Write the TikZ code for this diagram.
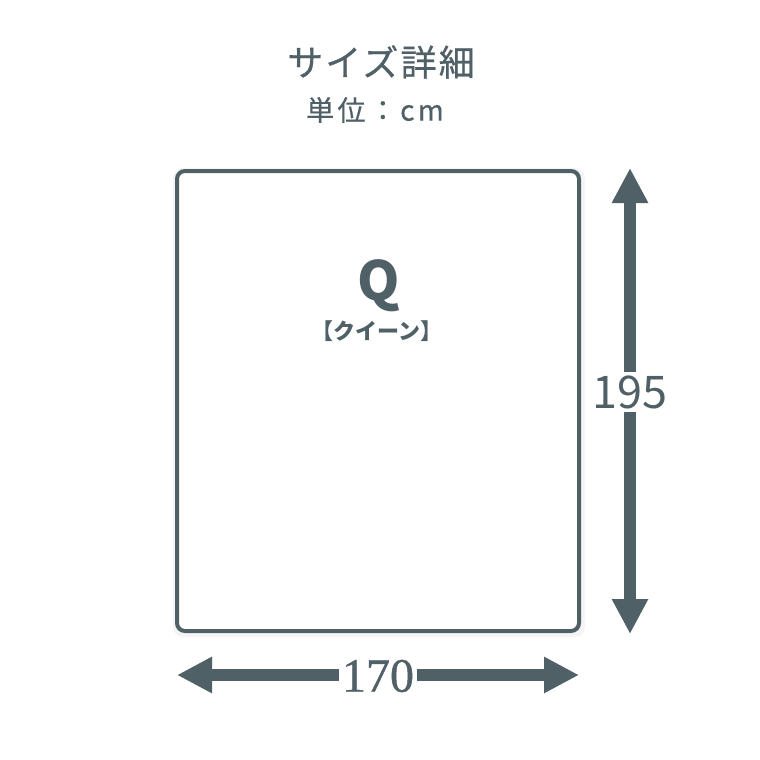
\documentclass[tikz,border=0pt]{standalone}
\usepackage{fontspec}
\usetikzlibrary{arrows.meta}
\newfontfamily\jpfont{Noto Sans CJK JP}
\newfontfamily\jptitle[LetterSpace=6,FakeBold=0.6]{Noto Sans CJK JP}
\newfontfamily\jpunit[LetterSpace=12,FakeBold=0.5]{Noto Sans CJK JP}
\newfontfamily\numserif[FakeBold=0.8]{Liberation Serif}
\definecolor{slate}{RGB}{80,96,103}
\tikzset{
  dimarrow/.style={slate, line width=12pt, {Triangle[width=34pt,length=35pt]}-{Triangle[width=34pt,length=35pt]}},
  dimlabel/.style={fill=white, text=slate},
}
\begin{document}
\begin{tikzpicture}[x=1pt,y=-1pt]
\useasboundingbox (0,0) rectangle (760,760);
\fill[white] (0,0) rectangle (760,760);
% title
\node[text=slate, font=\jptitle\fontsize{36}{40}\selectfont] (title) at (381,62) {サイズ詳細};
\node[text=slate, font=\jpunit\fontsize{28}{32}\selectfont] (unit) at (375,110) {単位：cm};
% shadow
\fill[black!4, rounded corners=10pt] (173,168) rectangle (585,637);
% bed
\node[draw=slate, line width=4pt, rounded corners=8pt, fill=white,
      minimum width=402pt, minimum height=460pt, inner sep=0pt] (bed) at (378,401) {};
\node[text=slate, font=\jpfont\bfseries\fontsize{54}{56}\selectfont] (q) at (379,286) {Q};
\node[text=slate, font=\jpfont\bfseries\fontsize{22}{25}\selectfont] (qname) at (377,331) {【クイーン】};
% vertical dimension
\coordinate (vt) at (630,168);
\coordinate (vb) at (630,634);
\draw[dimarrow] (vt) -- (vb);
\node[dimlabel, font=\jpfont\fontsize{45}{50}\selectfont, inner xsep=0pt, inner ysep=3pt] (h) at (630,392) {195};
% horizontal dimension
\coordinate (hl) at (177,675);
\coordinate (hr) at (579,675);
\draw[dimarrow] (hl) -- (hr);
\node[dimlabel, font=\numserif\fontsize{48}{50}\selectfont, inner xsep=3pt, inner ysep=0pt] (w) at (378,676) {170};
\end{tikzpicture}
\end{document}
